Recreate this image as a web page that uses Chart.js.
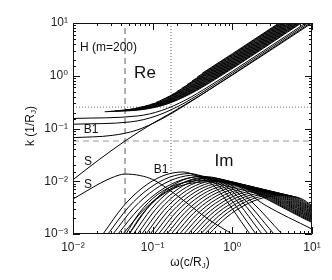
<!DOCTYPE html>
<html lang="en">
<head>
<meta charset="utf-8">
<title>H (m=200) dispersion</title>
<script src="https://cdn.jsdelivr.net/npm/chart.js@4.4.1/dist/chart.umd.min.js"></script>
<style>
  html, body { margin: 0; padding: 0; background: #ffffff; }
  canvas { display: block; }
</style>
</head>
<body>
<canvas id="chartDispersion" width="332" height="280"></canvas>
<script>
// ========== DATA (omega in c/R_J, k in 1/R_J) ==========
// Re k : surface mode S, body mode B1, low body modes, higher body modes
const reS  = [[0.01,0.0107],[0.02,0.024],[0.045,0.058],[0.1,0.125],[0.17,0.197],[0.4,0.43],[1,1.03],[10,10]];
const reB1 = [[0.01,0.067],[0.031,0.074],[0.063,0.093],[0.126,0.148],[0.25,0.271],[1,1.052],[10,10.5]];
const reLow = [
  [[0.01,0.1205],[0.054,0.134],[0.107,0.17],[0.214,0.268],[0.43,0.496],[1,1.126],[10,11.2]],
  [[0.01,0.155],[0.065,0.173],[0.129,0.219],[0.26,0.348],[0.52,0.643],[1,1.21],[10,12]]
];
const reHigh = [
  [[0.025,0.2078],[0.0754,0.229],[0.1507,0.29],[0.301,0.458],[0.603,0.845],[10,13.6]],
  [[0.029,0.2115],[0.0738,0.232],[0.1475,0.293],[0.295,0.464],[0.59,0.856],[10,14.07]],
  [[0.0336,0.2156],[0.0721,0.235],[0.1442,0.297],[0.288,0.47],[0.577,0.866],[10,14.56]],
  [[0.039,0.2205],[0.0705,0.238],[0.141,0.3],[0.282,0.475],[0.564,0.876],[10,15.07]],
  [[0.0453,0.2263],[0.069,0.24],[0.1379,0.304],[0.276,0.481],[0.552,0.886],[10,15.59]],
  [[0.0525,0.2334],[0.0674,0.243],[0.1348,0.3075],[0.27,0.486],[0.539,0.897],[10,16.13]],
  [[0.0609,0.2424],[0.1318,0.311],[0.264,0.492],[0.527,0.907],[10,16.69]],
  [[0.0707,0.2538],[0.1288,0.3146],[0.258,0.4975],[0.515,0.917],[10,17.27]],
  [[0.082,0.2685],[0.1259,0.318],[0.252,0.503],[0.504,0.928],[10,17.87]],
  [[0.0951,0.2876],[0.123,0.3217],[0.246,0.5087],[0.492,0.938],[10,18.49]],
  [[0.1103,0.3122],[0.24,0.514],[0.481,0.948],[10,19.13]],
  [[0.1279,0.3438],[0.235,0.52],[0.47,0.959],[10,19.8]],
  [[0.1484,0.3843],[0.229,0.525],[0.459,0.969],[10,20.48]],
  [[0.1722,0.4353],[0.224,0.531],[0.448,0.979],[10,21.19]],
  [[0.1997,0.4995],[0.438,0.99],[10,21.93]],
  [[0.2317,0.5789],[0.428,1.0],[10,22.69]],
  [[0.2688,0.6773],[0.417,1.01],[10,23.48]],
  [[0.3118,0.7967],[0.4076,1.02],[10,24.29]],
  [[0.3617,0.9426],[1,2.525],[10,25.13]],
  [[0.4195,1.1197],[1,2.612],[10,26.0]]
];

// Im k
const imS  = [[0.01,0.0046],[0.015,0.0066],[0.02,0.0085],[0.03,0.0115],[0.045,0.0137],[0.07,0.0128],[0.1,0.0108],[0.17,0.0065],[0.3,0.0034],[0.5,0.0019],[1.05,0.00095]];
const imB1 = [[0.0238,0.001],[0.0424,0.0033],[0.0756,0.00765],[0.1348,0.0127],[0.24,0.015],[0.3707,0.0123],[0.5886,0.00813],[1.666,0.001]];
const imLow = [
  [[0.0275,0.001],[0.0497,0.00322],[0.0899,0.00729],[0.1627,0.0119],[0.2941,0.014],[0.4537,0.01152],[0.7206,0.00745],[1.982,0.001]],
  [[0.0318,0.001],[0.0579,0.00313],[0.1054,0.00695],[0.192,0.01118],[0.35,0.01313],[0.5397,0.01079],[0.857,0.00683],[2.357,0.001]],
  [[0.0367,0.001],[0.0674,0.00303],[0.1236,0.0066],[0.2268,0.01051],[0.4161,0.0123],[0.6419,0.01011],[1.019,0.00625],[2.803,0.001]],
  [[0.0424,0.001],[0.0784,0.00295],[0.1449,0.00628],[0.2678,0.00989],[0.4949,0.01152],[0.7635,0.00947],[1.212,0.00573],[3.333,0.001]],
  [[0.0463,0.001],[0.068,0.00251],[0.1138,0.00551],[0.2165,0.00899],[0.6058,0.01042],[0.9346,0.00868],[1.765,0.00404],[4.201,0.001]]
];
const imHigh = [
  [[0.0505,0.001],[0.0749,0.00245],[0.1267,0.00529],[0.2445,0.00852],[0.70,0.00985],[1.049,0.00887],[2.57,0.00355],[10,0.00124]],
  [[0.0508,0.001],[0.0854,0.00304],[0.1436,0.00664],[0.2417,0.01059],[0.4066,0.01238],[0.7249,0.01086],[10,0.00165]],
  [[0.0573,0.001],[0.0964,0.00299],[0.1622,0.00642],[0.2729,0.01016],[0.4591,0.01184],[0.8184,0.01039],[10,0.00171]],
  [[0.0647,0.001],[0.1089,0.00293],[0.1831,0.00621],[0.3081,0.00975],[0.5184,0.01133],[0.9241,0.00994],[10,0.00178]],
  [[0.073,0.001],[0.1229,0.00287],[0.2067,0.00601],[0.3478,0.00936],[0.5852,0.01085],[1.043,0.00951],[10,0.00185]],
  [[0.0825,0.001],[0.1388,0.00282],[0.2334,0.00581],[0.3927,0.00898],[0.6608,0.01038],[1.178,0.00911],[10,0.00193]],
  [[0.0931,0.001],[0.1567,0.00276],[0.2635,0.00563],[0.4434,0.00862],[0.746,0.00993],[1.33,0.00871],[10,0.002]],
  [[0.1051,0.001],[0.1769,0.00271],[0.2975,0.00544],[0.5007,0.00827],[0.8423,0.00951],[1.502,0.00834],[10,0.00208]],
  [[0.1187,0.001],[0.1997,0.00266],[0.3359,0.00527],[0.5652,0.00794],[0.951,0.0091],[1.695,0.00798],[10,0.00217]],
  [[0.134,0.001],[0.2255,0.00261],[0.3793,0.0051],[0.6381,0.00761],[1.074,0.0087],[1.914,0.00764],[10,0.00225]],
  [[0.1513,0.001],[0.2546,0.00256],[0.4282,0.00493],[0.7205,0.00731],[1.212,0.00833],[2.161,0.0073],[10,0.00234]],
  [[0.1708,0.001],[0.2874,0.00251],[0.4834,0.00477],[0.8134,0.00701],[1.369,0.00797],[2.44,0.00699],[10,0.00244]],
  [[0.1929,0.001],[0.3245,0.00246],[0.5459,0.00462],[0.9185,0.00673],[1.545,0.00763],[2.755,0.00669],[10,0.00253]],
  [[0.2178,0.001],[0.3664,0.00242],[0.6163,0.00447],[1.037,0.00646],[1.745,0.0073],[3.11,0.0064],[10,0.00264]],
  [[0.2459,0.001],[0.4137,0.00237],[0.6959,0.00432],[1.171,0.0062],[1.97,0.00699],[3.512,0.00613],[10,0.00274]],
  [[0.2776,0.001],[0.4671,0.00232],[0.7857,0.00418],[1.322,0.00595],[2.224,0.00668],[3.965,0.00586],[10,0.00285]],
  [[0.3135,0.001],[0.5274,0.00228],[0.8871,0.00405],[1.493,0.00571],[2.512,0.0064],[4.477,0.00561],[10,0.00297]],
  [[0.3539,0.001],[0.5955,0.00224],[1.002,0.00391],[1.685,0.00547],[2.836,0.00612],[5.055,0.00537],[10,0.00308]],
  [[0.3996,0.001],[0.6723,0.00219],[1.131,0.00379],[1.903,0.00525],[3.202,0.00586],[5.708,0.00514],[10,0.00321]],
  [[0.4511,0.001],[0.759,0.00215],[1.277,0.00366],[2.148,0.00504],[3.614,0.00561],[6.443,0.00492],[10,0.00334]],
  [[0.5094,0.001],[0.8571,0.00211],[1.442,0.00354],[2.426,0.00484],[4.082,0.00536],[7.276,0.00471],[10,0.00347]]
];

// reference levels
const omegaDashed = 0.045;
const omegaDotted = 0.17;
const kDotted = 0.255;
const kDashed = 0.058;

const omegaRange = [0.01, 10];
const kRange = [0.001, 10];

(function () {
  'use strict';

  const SUP = { '-': '\u207B', '0': '\u2070', '1': '\u00B9', '2': '\u00B2', '3': '\u00B3' };
  const FONT = '"Liberation Sans", "DejaVu Sans", sans-serif';

  function isDecade(v) {
    const e = Math.log10(v);
    return Math.abs(e - Math.round(e)) < 1e-6;
  }

  function powLabel(v) {
    if (!isDecade(v)) return '';
    return '10' + String(Math.round(Math.log10(v))).split('').map(c => SUP[c]).join('');
  }

  function curve(points) {
    return {
      data: points.map(p => ({ x: p[0], y: p[1] })),
      borderColor: '#000000',
      borderWidth: 1,
      pointRadius: 0,
      fill: false,
      cubicInterpolationMode: 'monotone'
    };
  }

  function refLine(points, dash, color) {
    return {
      data: points.map(p => ({ x: p[0], y: p[1] })),
      borderColor: color,
      borderWidth: 1.2,
      borderDash: dash,
      pointRadius: 0,
      fill: false,
      tension: 0
    };
  }

  // ========== DATASETS ==========
  const datasets = [];
  [reS, reB1].concat(reLow, reHigh).forEach(c => datasets.push(curve(c)));
  [imS, imB1].concat(imLow, imHigh).forEach(c => datasets.push(curve(c)));
  datasets.push(refLine([[omegaRange[0], kDashed], [omegaRange[1], kDashed]], [6, 4], '#9a9a9a'));
  datasets.push(refLine([[omegaDashed, kRange[0]], [omegaDashed, kRange[1]]], [6, 4], '#777777'));
  datasets.push(refLine([[omegaRange[0], kDotted], [omegaRange[1], kDotted]], [1, 2], '#888888'));
  datasets.push(refLine([[omegaDotted, kRange[0]], [omegaDotted, kRange[1]]], [1, 2], '#777777'));

  // ========== FRAME + INWARD TICKS ==========
  const boxTicks = {
    id: 'boxTicks',
    afterDatasetsDraw(chart) {
      const { ctx, chartArea: a, scales } = chart;
      ctx.save();
      ctx.strokeStyle = '#111111';
      ctx.lineWidth = 1;
      ctx.beginPath();
      ctx.rect(a.left + 0.5, a.top + 0.5, a.width - 1, a.height - 1);
      scales.x.ticks.forEach(t => {
        const px = Math.round(scales.x.getPixelForValue(t.value)) + 0.5;
        const len = isDecade(t.value) ? 7 : 3;
        ctx.moveTo(px, a.bottom); ctx.lineTo(px, a.bottom - len);
        ctx.moveTo(px, a.top); ctx.lineTo(px, a.top + len);
      });
      scales.y.ticks.forEach(t => {
        const py = Math.round(scales.y.getPixelForValue(t.value)) + 0.5;
        const len = isDecade(t.value) ? 7 : 3;
        ctx.moveTo(a.left, py); ctx.lineTo(a.left + len, py);
        ctx.moveTo(a.right, py); ctx.lineTo(a.right - len, py);
      });
      ctx.stroke();
      ctx.restore();
    }
  };

  // ========== LABELS ==========
  const notes = [
    { text: 'H (m=200)', at: [0.01224, 3.36], size: 12, align: 'left' },
    { text: 'Re', at: [0.0801, 1.127], size: 17, align: 'center' },
    { text: 'Im', at: [0.786, 0.0242], size: 17, align: 'center' },
    { text: 'B1', at: [0.01682, 0.0937], size: 12, align: 'center' },
    { text: 'B1', at: [0.1272, 0.01634], size: 12, align: 'center' },
    { text: 'S', at: [0.01543, 0.02317], size: 12, align: 'center' },
    { text: 'S', at: [0.01543, 0.00849], size: 12, align: 'center' }
  ];

  function drawRich(ctx, parts, x, y, size) {
    const main = size + 'px ' + FONT;
    const small = Math.round(size * 0.7) + 'px ' + FONT;
    let w = 0;
    parts.forEach(p => { ctx.font = p.sub ? small : main; w += ctx.measureText(p.t).width; });
    let cx = x - w / 2;
    ctx.textAlign = 'left';
    ctx.textBaseline = 'middle';
    parts.forEach(p => {
      ctx.font = p.sub ? small : main;
      ctx.fillText(p.t, cx, p.sub ? y + 3 : y);
      cx += ctx.measureText(p.t).width;
    });
  }

  const textLayer = {
    id: 'textLayer',
    afterDraw(chart) {
      const { ctx, scales } = chart;
      ctx.save();
      ctx.fillStyle = '#111111';
      notes.forEach(n => {
        ctx.font = n.size + 'px ' + FONT;
        ctx.textAlign = n.align;
        ctx.textBaseline = 'middle';
        ctx.fillText(n.text, scales.x.getPixelForValue(n.at[0]), scales.y.getPixelForValue(n.at[1]));
      });
      // axis titles
      drawRich(ctx, [{ t: '\u03C9(c/R' }, { t: 'J', sub: true }, { t: ')' }], 190, 263, 12);
      ctx.translate(31, 126);
      ctx.rotate(-Math.PI / 2);
      drawRich(ctx, [{ t: 'k (1/R' }, { t: 'J', sub: true }, { t: ')' }], 0, 0, 12);
      ctx.restore();
    }
  };

  // ========== CHART ==========
  const axisCommon = {
    type: 'logarithmic',
    grid: { display: false, drawTicks: false },
    border: { display: false },
    ticks: {
      autoSkip: false,
      maxRotation: 0,
      color: '#222222',
      font: { family: FONT, size: 12 },
      callback: (v) => powLabel(v)
    }
  };

  new Chart(document.getElementById('chartDispersion'), {
    type: 'line',
    data: { datasets: datasets },
    options: {
      responsive: false,
      animation: false,
      events: [],
      layout: { padding: { top: 23, right: 20, left: 0, bottom: 0 } },
      plugins: { legend: { display: false }, tooltip: { enabled: false } },
      scales: {
        x: Object.assign({}, axisCommon, {
          position: 'bottom',
          min: omegaRange[0], max: omegaRange[1],
          ticks: Object.assign({}, axisCommon.ticks, { padding: 6 }),
          afterFit: (s) => { s.height = 46; s.paddingLeft = 0; s.paddingRight = 0; }
        }),
        y: Object.assign({}, axisCommon, {
          position: 'left',
          min: kRange[0], max: kRange[1],
          ticks: Object.assign({}, axisCommon.ticks, { padding: 5 }),
          afterFit: (s) => { s.width = 73; s.paddingTop = 0; s.paddingBottom = 0; }
        })
      }
    },
    plugins: [boxTicks, textLayer]
  });
})();
</script>
</body>
</html>
